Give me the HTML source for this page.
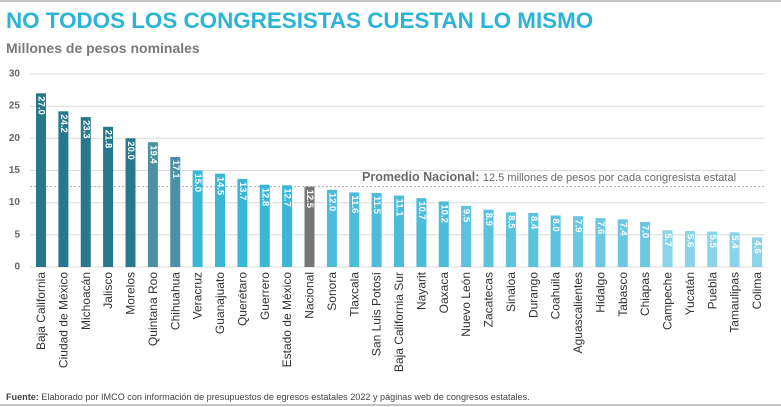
<!DOCTYPE html>
<html><head><meta charset="utf-8"><style>
html,body{margin:0;padding:0;background:#fff;}
svg{display:block;font-family:"Liberation Sans",sans-serif;}
</style></head><body>
<svg width="781" height="407" viewBox="0 0 781 407" xmlns="http://www.w3.org/2000/svg">
<line x1="0" y1="1" x2="781" y2="1" stroke="#888" stroke-width="1"/>
<text x="6" y="28" font-size="22.4" font-weight="bold" fill="#2cb4d6">NO TODOS LOS CONGRESISTAS CUESTAN LO MISMO</text>
<text x="6" y="53" font-size="14" font-weight="bold" fill="#7a7a7a">Millones de pesos nominales</text>
<g stroke="#dcdcdc" stroke-width="1">
<line x1="30" y1="267" x2="765" y2="267"/><line x1="30" y1="234.8" x2="765" y2="234.8"/>
<line x1="30" y1="202.7" x2="765" y2="202.7"/><line x1="30" y1="170.5" x2="765" y2="170.5"/>
<line x1="30" y1="138.3" x2="765" y2="138.3"/><line x1="30" y1="106.2" x2="765" y2="106.2"/>
<line x1="30" y1="74" x2="765" y2="74"/></g>
<g font-size="10" font-weight="bold" fill="#666" text-anchor="end" dominant-baseline="central">
<text x="20" y="267">0</text><text x="20" y="234.8">5</text><text x="20" y="202.7">10</text>
<text x="20" y="170.5">15</text><text x="20" y="138.3">20</text><text x="20" y="106.2">25</text><text x="20" y="74">30</text></g>
<line x1="30" y1="186.6" x2="765" y2="186.6" stroke="#aaa" stroke-dasharray="2,2"/>
<text x="362" y="181" font-size="12.5" fill="#6a6a6a"><tspan font-weight="bold">Promedio Nacional:</tspan> <tspan font-size="11">12.5 millones de pesos por cada congresista estatal</tspan></text>
<g>
<rect x="36" y="93.3" width="10" height="173.7" fill="#27788c"/>
<rect x="58.4" y="111.3" width="10" height="155.7" fill="#27788c"/>
<rect x="80.75" y="117.1" width="10" height="149.9" fill="#27788c"/>
<rect x="103.1" y="126.8" width="10" height="140.2" fill="#27788c"/>
<rect x="125.5" y="138.3" width="10" height="128.7" fill="#27788c"/>
<rect x="147.9" y="142.2" width="10" height="124.8" fill="#4a92a3"/>
<rect x="170.25" y="157" width="10" height="110" fill="#4a92a3"/>
<rect x="192.6" y="170.5" width="10" height="96.5" fill="#3ab6d6"/>
<rect x="215" y="173.7" width="10" height="93.3" fill="#3ab6d6"/>
<rect x="237.4" y="178.9" width="10" height="88.1" fill="#3ab6d6"/>
<rect x="259.75" y="184.7" width="10" height="82.3" fill="#3ab6d6"/>
<rect x="282.1" y="185.3" width="10" height="81.7" fill="#3ab6d6"/>
<rect x="304.5" y="186.6" width="10" height="80.4" fill="#767676"/>
<rect x="326.9" y="189.8" width="10" height="77.2" fill="#4dbcdb"/>
<rect x="349.25" y="192.4" width="10" height="74.6" fill="#4dbcdb"/>
<rect x="371.6" y="193" width="10" height="74" fill="#4dbcdb"/>
<rect x="394" y="195.6" width="10" height="71.4" fill="#4dbcdb"/>
<rect x="416.4" y="198.2" width="10" height="68.8" fill="#4dbcdb"/>
<rect x="438.75" y="201.4" width="10" height="65.6" fill="#4dbcdb"/>
<rect x="461.1" y="205.9" width="10" height="61.1" fill="#5cc3df"/>
<rect x="483.5" y="209.7" width="10" height="57.3" fill="#5cc3df"/>
<rect x="505.9" y="212.3" width="10" height="54.7" fill="#5cc3df"/>
<rect x="528.25" y="213" width="10" height="54" fill="#5cc3df"/>
<rect x="550.6" y="215.5" width="10" height="51.5" fill="#5cc3df"/>
<rect x="573" y="216.2" width="10" height="50.8" fill="#6cc8e2"/>
<rect x="595.4" y="218.1" width="10" height="48.9" fill="#6cc8e2"/>
<rect x="617.75" y="219.4" width="10" height="47.6" fill="#6cc8e2"/>
<rect x="640.1" y="222" width="10" height="45" fill="#6cc8e2"/>
<rect x="662.5" y="230.3" width="10" height="36.7" fill="#8ad3e8"/>
<rect x="684.9" y="231" width="10" height="36" fill="#8ad3e8"/>
<rect x="707.25" y="231.6" width="10" height="35.4" fill="#8ad3e8"/>
<rect x="729.6" y="232.3" width="10" height="34.7" fill="#8ad3e8"/>
<rect x="752" y="237.4" width="10" height="29.6" fill="#8ad3e8"/>
</g>
<g font-size="9.5" font-weight="bold" fill="#fff" dominant-baseline="central">
<text transform="translate(41,96.3) rotate(90)">27.0</text>
<text transform="translate(63.4,114.3) rotate(90)">24.2</text>
<text transform="translate(85.75,120.1) rotate(90)">23.3</text>
<text transform="translate(108.1,129.8) rotate(90)">21.8</text>
<text transform="translate(130.5,141.3) rotate(90)">20.0</text>
<text transform="translate(152.9,145.2) rotate(90)">19.4</text>
<text transform="translate(175.25,160) rotate(90)">17.1</text>
<text transform="translate(197.6,173.5) rotate(90)">15.0</text>
<text transform="translate(220,176.7) rotate(90)">14.5</text>
<text transform="translate(242.4,181.9) rotate(90)">13.7</text>
<text transform="translate(264.75,187.7) rotate(90)">12.8</text>
<text transform="translate(287.1,188.3) rotate(90)">12.7</text>
<text transform="translate(309.5,189.6) rotate(90)">12.5</text>
<text transform="translate(331.9,192.8) rotate(90)">12.0</text>
<text transform="translate(354.25,195.4) rotate(90)">11.6</text>
<text transform="translate(376.6,196) rotate(90)">11.5</text>
<text transform="translate(399,198.6) rotate(90)">11.1</text>
<text transform="translate(421.4,201.2) rotate(90)">10.7</text>
<text transform="translate(443.75,204.4) rotate(90)">10.2</text>
<text transform="translate(466.1,208.9) rotate(90)">9.5</text>
<text transform="translate(488.5,212.7) rotate(90)">8.9</text>
<text transform="translate(510.9,215.3) rotate(90)">8.5</text>
<text transform="translate(533.25,216) rotate(90)">8.4</text>
<text transform="translate(555.6,218.5) rotate(90)">8.0</text>
<text transform="translate(578,219.2) rotate(90)">7.9</text>
<text transform="translate(600.4,221.1) rotate(90)">7.6</text>
<text transform="translate(622.75,222.4) rotate(90)">7.4</text>
<text transform="translate(645.1,225) rotate(90)">7.0</text>
<text transform="translate(667.5,233.3) rotate(90)">5.7</text>
<text transform="translate(689.9,234) rotate(90)">5.6</text>
<text transform="translate(712.25,234.6) rotate(90)">5.5</text>
<text transform="translate(734.6,235.3) rotate(90)">5.4</text>
<text transform="translate(757,240.4) rotate(90)">4.6</text>
</g>
<g font-size="12" fill="#333" text-anchor="end" dominant-baseline="central">
<text transform="translate(41,272) rotate(-90)">Baja California</text>
<text transform="translate(63.4,272) rotate(-90)">Ciudad de México</text>
<text transform="translate(85.75,272) rotate(-90)">Michoacán</text>
<text transform="translate(108.1,272) rotate(-90)">Jalisco</text>
<text transform="translate(130.5,272) rotate(-90)">Morelos</text>
<text transform="translate(152.9,272) rotate(-90)">Quintana Roo</text>
<text transform="translate(175.25,272) rotate(-90)">Chihuahua</text>
<text transform="translate(197.6,272) rotate(-90)">Veracruz</text>
<text transform="translate(220,272) rotate(-90)">Guanajuato</text>
<text transform="translate(242.4,272) rotate(-90)">Querétaro</text>
<text transform="translate(264.75,272) rotate(-90)">Guerrero</text>
<text transform="translate(287.1,272) rotate(-90)">Estado de México</text>
<text transform="translate(309.5,272) rotate(-90)">Nacional</text>
<text transform="translate(331.9,272) rotate(-90)">Sonora</text>
<text transform="translate(354.25,272) rotate(-90)">Tlaxcala</text>
<text transform="translate(376.6,272) rotate(-90)">San Luis Potosí</text>
<text transform="translate(399,272) rotate(-90)">Baja California Sur</text>
<text transform="translate(421.4,272) rotate(-90)">Nayarit</text>
<text transform="translate(443.75,272) rotate(-90)">Oaxaca</text>
<text transform="translate(466.1,272) rotate(-90)">Nuevo León</text>
<text transform="translate(488.5,272) rotate(-90)">Zacatecas</text>
<text transform="translate(510.9,272) rotate(-90)">Sinaloa</text>
<text transform="translate(533.25,272) rotate(-90)">Durango</text>
<text transform="translate(555.6,272) rotate(-90)">Coahuila</text>
<text transform="translate(578,272) rotate(-90)">Aguascalientes</text>
<text transform="translate(600.4,272) rotate(-90)">Hidalgo</text>
<text transform="translate(622.75,272) rotate(-90)">Tabasco</text>
<text transform="translate(645.1,272) rotate(-90)">Chiapas</text>
<text transform="translate(667.5,272) rotate(-90)">Campeche</text>
<text transform="translate(689.9,272) rotate(-90)">Yucatán</text>
<text transform="translate(712.25,272) rotate(-90)">Puebla</text>
<text transform="translate(734.6,272) rotate(-90)">Tamaulipas</text>
<text transform="translate(757,272) rotate(-90)">Colima</text>
</g>
<text x="6" y="400" font-size="9.1" fill="#444"><tspan font-weight="bold">Fuente:</tspan> Elaborado por IMCO con información de presupuestos de egresos estatales 2022 y páginas web de congresos estatales.</text>
<line x1="0" y1="405" x2="781" y2="405" stroke="#888" stroke-width="1"/>
</svg>
</body></html>
